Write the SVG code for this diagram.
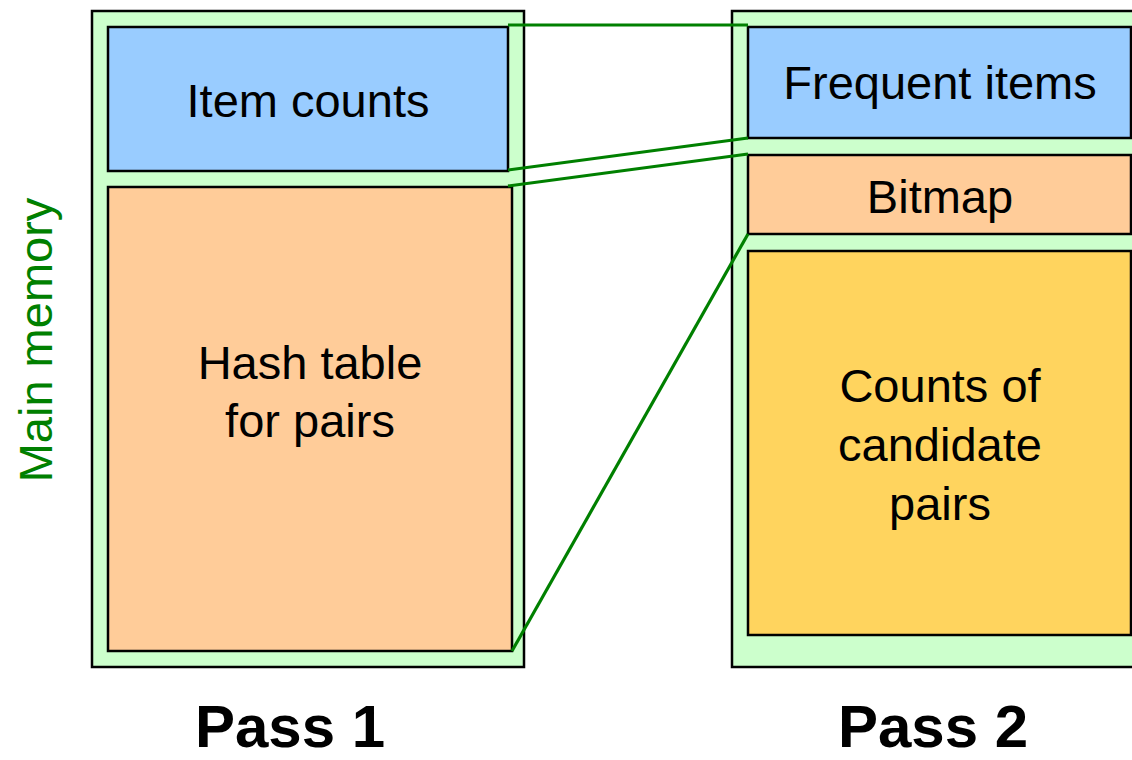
<svg xmlns="http://www.w3.org/2000/svg" width="1132" height="760" viewBox="0 0 1132 760">
<style>
.outer{fill:#CCFFCC;stroke:#000;stroke-width:2.5}
.blue{fill:#99CCFF;stroke:#000;stroke-width:2.5}
.orange{fill:#FFCC99;stroke:#000;stroke-width:2.5}
.yellow{fill:#FFD45E;stroke:#000;stroke-width:2.5}
.t{font-family:"Liberation Sans",Arial,sans-serif;font-size:47px;fill:#000;text-anchor:middle}
.pass{font-family:"Liberation Sans",Arial,sans-serif;font-size:60px;font-weight:bold;fill:#000;text-anchor:middle}
.conn{stroke:#008000;stroke-width:3.2;fill:none}
</style>
<rect width="1132" height="760" fill="#fff"/>
<g id="pass1-memory">
<rect class="outer" x="92" y="11" width="432" height="656"/>
</g>
<g id="pass2-memory">
<rect class="outer" x="732" y="11" width="420" height="656"/>
</g>
<g id="item-counts">
<rect class="blue" x="108" y="27" width="400" height="144"/>
<text class="t" x="308" y="117">Item counts</text>
</g>
<g id="hash-table">
<rect class="orange" x="108" y="187" width="404" height="464"/>
<text class="t" x="310" y="379">Hash table</text>
<text class="t" x="310" y="437">for pairs</text>
</g>
<g id="frequent-items">
<rect class="blue" x="748" y="27" width="383" height="111"/>
<text class="t" x="940" y="99">Frequent items</text>
</g>
<g id="bitmap">
<rect class="orange" x="748" y="155" width="383" height="79"/>
<text class="t" x="940" y="213">Bitmap</text>
</g>
<g id="candidate-counts">
<rect class="yellow" x="748" y="251" width="383" height="384"/>
<text class="t" x="940" y="402">Counts of</text>
<text class="t" x="940" y="461">candidate</text>
<text class="t" x="940" y="520">pairs</text>
</g>
<g id="connectors">
<line class="conn" x1="508" y1="25" x2="748" y2="25"/>
<line class="conn" x1="508" y1="170" x2="748" y2="138"/>
<line class="conn" x1="508" y1="186" x2="748" y2="154"/>
<line class="conn" x1="512" y1="651" x2="748" y2="234"/>
</g>
<g id="labels">
<text class="t" transform="translate(52,340) rotate(-90)" style="fill:#008000">Main memory</text>
<text class="pass" x="290" y="747">Pass 1</text>
<text class="pass" x="933" y="747">Pass 2</text>
</g>
</svg>
